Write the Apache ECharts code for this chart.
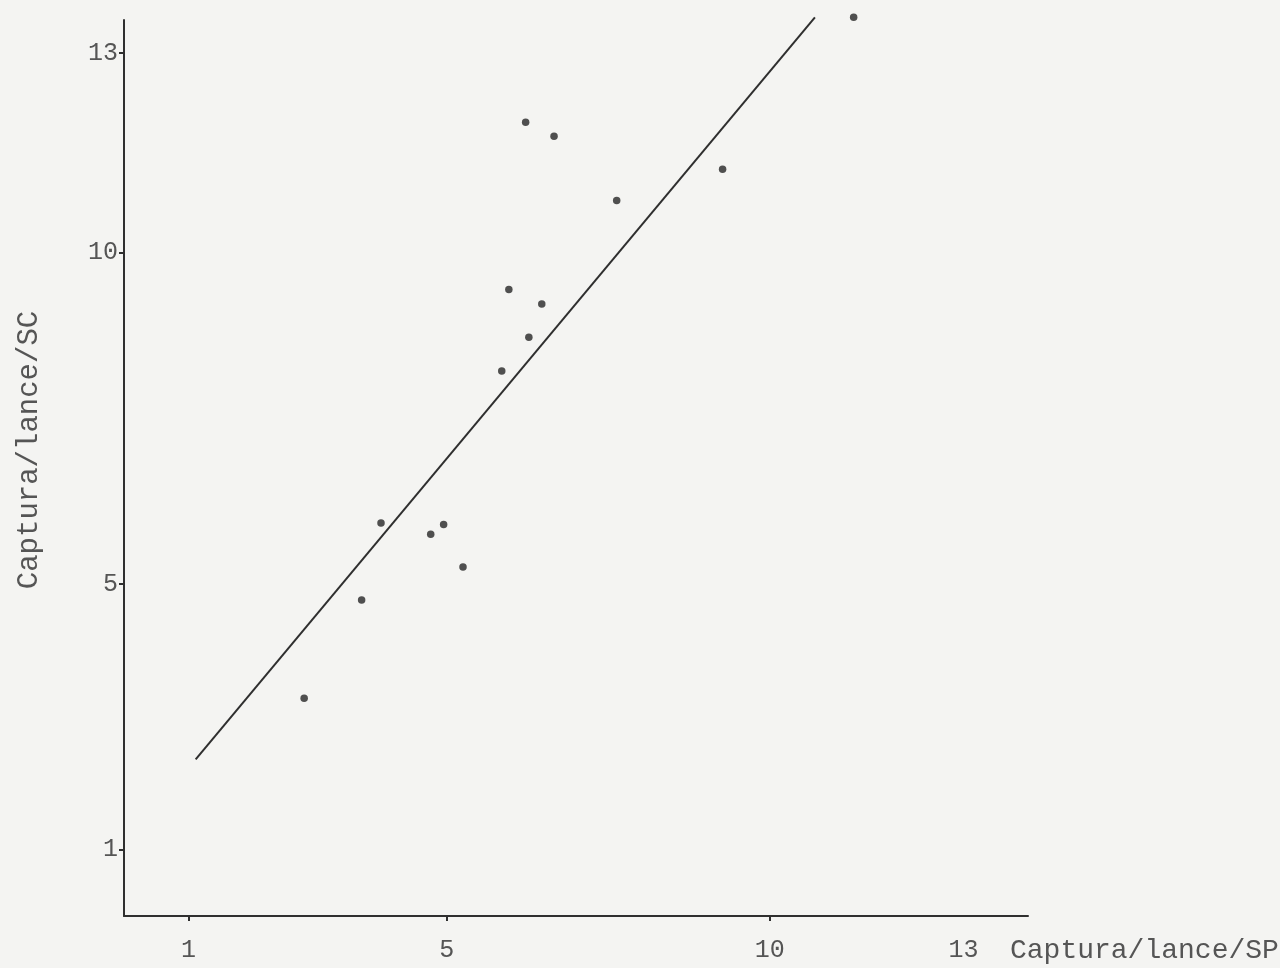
<!DOCTYPE html>
<html>
<head>
<meta charset="utf-8">
<script src="https://cdn.jsdelivr.net/npm/echarts@6/dist/echarts.min.js"></script>
<style>
html,body{margin:0;padding:0;background:#f4f4f2;}
#chart{width:1280px;height:968px;}
</style>
</head>
<body>
<div id="chart"></div>
<script>
// Data
const spValues = [2.79, 3.68, 3.98, 4.75, 4.95, 5.25, 5.85, 5.96, 6.22, 6.27, 6.47, 6.66, 7.63, 9.27, 11.30];
const scValues = [3.28, 4.76, 5.92, 5.75, 5.90, 5.26, 8.21, 9.44, 11.96, 8.72, 9.22, 11.75, 10.78, 11.25, 13.54];
const lineX = [1.11, 10.70];
const lineY = [2.36, 13.54];
const xTickLabels = [1, 5, 10, 13];
const xTickMarks = [1, 5, 10];
const yTickLabels = [1, 5, 10, 13];
const xTitle = 'Captura/lance/SP';
const yTitle = 'Captura/lance/SC';

const FONT = '"Liberation Mono", "DejaVu Sans Mono", monospace';
const TEXT_COLOR = '#555';
const INK = '#2f2f2f';

const scatterData = spValues.map((x, i) => [x, scValues[i]]);
const lineData = lineX.map((x, i) => [x, lineY[i]]);

const chart = echarts.init(document.getElementById('chart'));
chart.setOption({
  backgroundColor: '#f4f4f2',
  animation: false,
  grid: { left: 124, top: 20, width: 904, height: 896, containLabel: false, outerBoundsMode: 'none' },
  xAxis: {
    type: 'value', min: 0, max: 14,
    name: xTitle, nameLocation: 'end', nameGap: -18,
    nameTextStyle: { fontFamily: FONT, fontSize: 28, color: TEXT_COLOR, align: 'left', verticalAlign: 'top', padding: [21, 0, 0, 0] },
    splitLine: { show: false },
    axisLine: { show: true, lineStyle: { color: INK, width: 2 } },
    axisTick: { show: true, customValues: xTickMarks, length: 5, lineStyle: { color: INK, width: 2 } },
    axisLabel: { customValues: xTickLabels, margin: 22, fontFamily: FONT, fontSize: 25, color: TEXT_COLOR }
  },
  yAxis: {
    type: 'value', min: 0, max: 13.5,
    name: yTitle, nameLocation: 'middle', nameRotate: 90, nameGap: 80,
    nameTextStyle: { fontFamily: FONT, fontSize: 29, color: TEXT_COLOR, padding: [0, 0, 0, 36] },
    splitLine: { show: false },
    axisLine: { show: true, lineStyle: { color: INK, width: 2 } },
    axisTick: { show: true, customValues: yTickLabels, length: 5, lineStyle: { color: INK, width: 2 } },
    axisLabel: { customValues: yTickLabels, margin: 6, fontFamily: FONT, fontSize: 25, color: TEXT_COLOR }
  },
  series: [
    {
      type: 'line', data: lineData, showSymbol: false, symbol: 'none',
      lineStyle: { color: INK, width: 2 }, clip: false, silent: true
    },
    {
      type: 'scatter', data: scatterData, symbolSize: 7.5, clip: false,
      itemStyle: { color: '#252525' }
    }
  ]
});
</script>
</body>
</html>
